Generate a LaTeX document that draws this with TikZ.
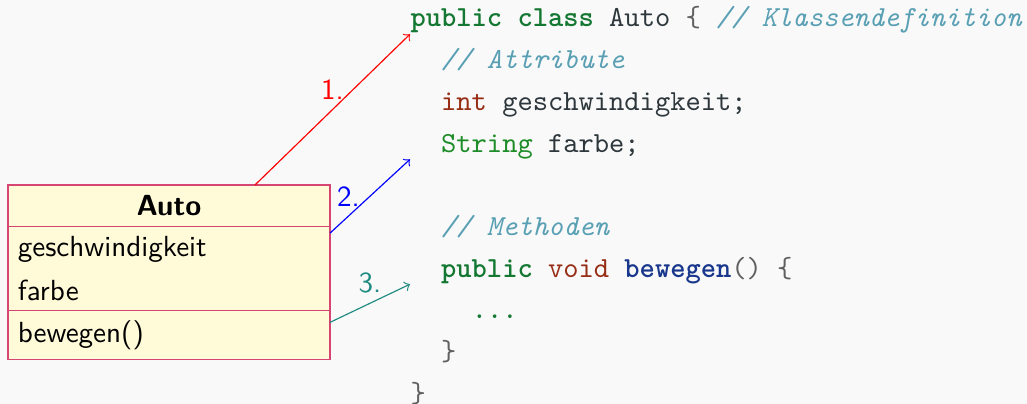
\documentclass[tikz,border=0pt]{standalone}
\usepackage{xcolor}
\usepackage{tikz}
\usetikzlibrary{arrows,shapes,calc,positioning}
\colorlet{colorEins}{red}
\colorlet{colorZwei}{blue}
\definecolor{colorDrei}{RGB}{30,140,130}
\definecolor{colorKW}{RGB}{20,120,50}
\definecolor{colorTY}{RGB}{150,45,20}
\definecolor{colorST}{RGB}{30,140,40}
\definecolor{colorID}{RGB}{45,55,60}
\definecolor{colorCM}{RGB}{90,160,180}
\definecolor{colorME}{RGB}{25,55,140}
\definecolor{colorPU}{RGB}{96,96,96}
\definecolor{colorUML}{RGB}{215,70,115}
\definecolor{colorUMLbg}{RGB}{255,250,215}
\tikzset{
   every path/.style={>=to},
   eins/.style={->,color=colorEins},
   zwei/.style={->,color=colorZwei},
   drei/.style={->,color=colorDrei},
   uml/.style={rectangle, draw=colorUML, fill=colorUMLbg, line width=0.6pt, outer sep=0pt},
   code/.style={anchor=base west, inner sep=0pt, font=\ttfamily},
}
\newcommand{\kwd}[1]{\textcolor{colorKW}{\bfseries #1}}
\newcommand{\typ}[1]{\textcolor{colorTY}{#1}}
\newcommand{\strtyp}[1]{\textcolor{colorST}{#1}}
\newcommand{\ident}[1]{\textcolor{colorID}{#1}}
\newcommand{\meth}[1]{\textcolor{colorME}{\bfseries #1}}
\newcommand{\punct}[1]{\textcolor{colorPU}{#1}}
\newcommand{\cmnt}[1]{\textcolor{colorCM}{\itshape #1}}
\begin{document}
\begin{tikzpicture}[font=\sffamily]
\useasboundingbox (0,0) rectangle (12.404,4.879);
\fill[gray!5] (0,0) rectangle (12.404,4.879);

% Klasse als UML-Kasten
\node[uml, minimum width=3.889cm, minimum height=0.502cm, inner sep=0pt] (head) at (2.041,2.394) {\bfseries Auto};
\node[uml, below=0pt of head, text width=3.650cm, inner xsep=3.4pt, align=left, minimum height=0.984cm] (attr) {geschwindigkeit\\[3.1pt]farbe};
\node[uml, below=0pt of attr, text width=3.650cm, inner xsep=3.4pt, align=left, minimum height=0.592cm] (meth) {bewegen()};

% Java-Code
\node[code] (c1) at (4.952,4.553) {\kwd{public class} \ident{Auto} \punct{\{} \cmnt{// Klassendefinition}};
\node[code] (c2) at (5.321,4.049) {\cmnt{// Attribute}};
\node[code] (c3) at (5.321,3.546) {\typ{int} \ident{geschwindigkeit;}};
\node[code] (c4) at (5.321,3.042) {\strtyp{String} \ident{farbe;}};
\node[code] (c6) at (5.321,2.035) {\cmnt{// Methoden}};
\node[code] (c7) at (5.321,1.532) {\kwd{public} \typ{void} \meth{bewegen}\punct{()} \punct{\{}};
\node[code] (c8) at (5.691,1.028) {\textcolor{colorKW}{...}};
\node[code] (c9) at (5.321,0.525) {\punct{\}}};
\node[code] (c10) at (4.952,0.021) {\punct{\}}};

\draw[eins] ([xshift=1.039cm]head.north) -- node[above] {1.} (c1.south west);
\draw[zwei] ([yshift=-0.08cm]attr.north east) -- node[left] {2.} (c4.south -| c1.west);
\draw[drei] ([yshift=-0.145cm]meth.north east) -- node[above] {3.} (c7.south -| c1.west);
\end{tikzpicture}
\end{document}
